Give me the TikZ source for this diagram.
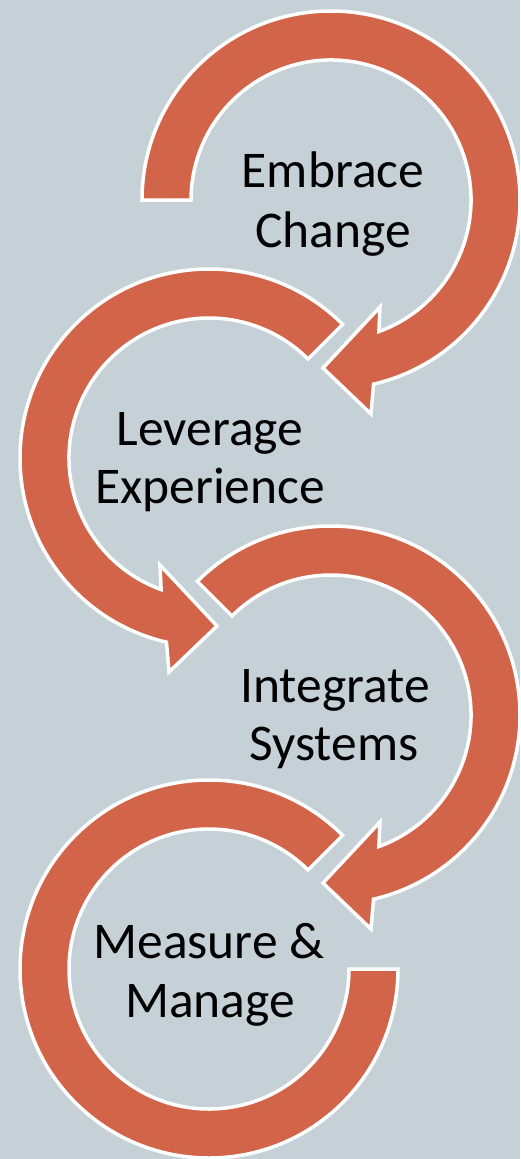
\documentclass[tikz,border=0pt]{standalone}
\usepackage{fontspec}
\setmainfont{Carlito}
\definecolor{bgcol}{RGB}{198,209,215}
\definecolor{arrcol}{RGB}{210,100,74}
\newcommand{\cycarrow}[1]{%
  \draw[arrowshape] (#1:189) arc[start angle=#1, end angle=-77, radius=189]
    -- (40,-214) -- (-8,-168) -- (49,-107) -- (-70:140)
    arc[start angle=-70, end angle=#1, radius=140] -- cycle;}
\begin{document}
\begin{tikzpicture}[x=1pt,y=1pt,
  arrowshape/.style={fill=arrcol, draw=white, line width=3.5pt, line join=miter},
  lbl/.style={anchor=base, inner sep=0pt, text=black, font=\fontsize{51.5}{59}\selectfont}]
\fill[bgcol] (0,0) rectangle (520,-1159);
\useasboundingbox (0,0) rectangle (520,-1159);
% arrow 1: Embrace Change
\begin{scope}[shift={(331,-200)}]
  \cycarrow{180}
\end{scope}
% arrow 2: Leverage Experience (mirrored)
\begin{scope}[shift={(209,-458)}, xscale=-1]
  \cycarrow{135}
\end{scope}
% arrow 3: Integrate Systems
\begin{scope}[shift={(331,-715)}]
  \cycarrow{135}
\end{scope}
% arrow 4: Measure & Manage (no head)
\begin{scope}[shift={(209,-969)}]
  \draw[arrowshape] (45:189) arc[start angle=45, end angle=360, radius=189]
    -- (0:140) arc[start angle=360, end angle=45, radius=140] -- cycle;
\end{scope}
% labels
\node[lbl] (e1) at (333,-187) {Embrace};
\node[lbl] (e2) at (333,-247) {Change};
\node[lbl] (l1) at (210,-445) {Leverage};
\node[lbl] (l2) at (210,-503) {Experience};
\node[lbl] (i1) at (335,-702) {Integrate};
\node[lbl] (i2) at (334,-760) {Systems};
\node[lbl] (m1) at (209,-958) {Measure \&};
\node[lbl] (m2) at (210,-1017) {Manage};
\end{tikzpicture}
\end{document}
